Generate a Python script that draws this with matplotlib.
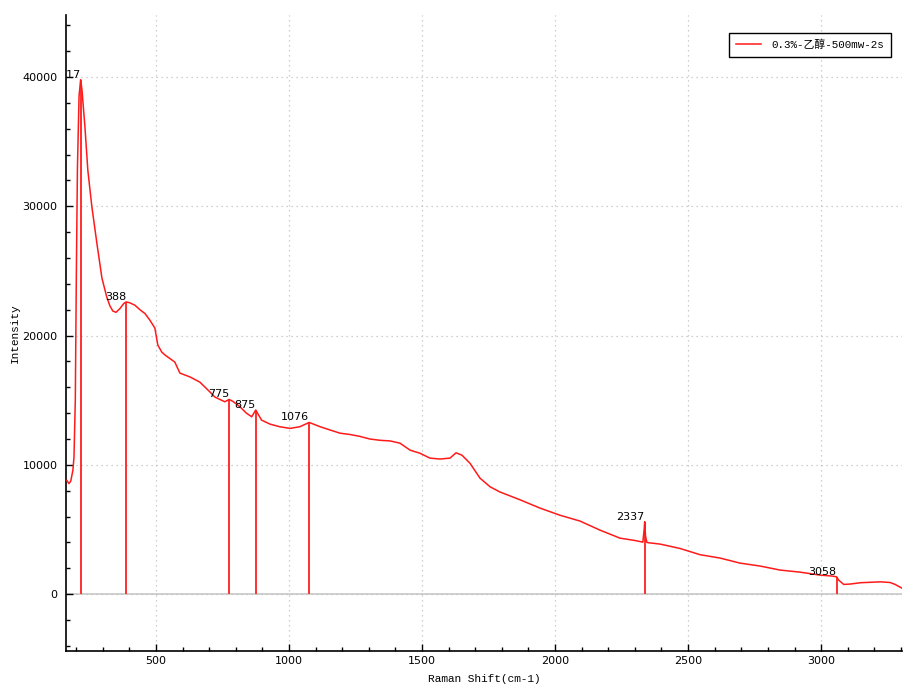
import matplotlib
matplotlib.use("Agg")
import matplotlib.pyplot as plt
from matplotlib.ticker import MultipleLocator

# Spectrum (Raman shift cm-1, intensity)
shift = [165, 173, 180, 188, 192, 197, 201, 205, 211, 217, 222, 233, 244, 259, 278,
         297, 315, 327, 338, 350, 365, 380, 388, 400, 421, 440, 459, 477, 496, 507,
         522, 534, 571, 590, 628, 665, 700, 722, 759, 775, 790, 816, 840, 860, 875,
         897, 929, 965, 1004, 1041, 1076, 1117, 1154, 1192, 1229, 1267, 1304, 1342,
         1380, 1417, 1455, 1492, 1530, 1568, 1605, 1628, 1650, 1680, 1718, 1756,
         1793, 1868, 1944, 2019, 2094, 2169, 2244, 2300, 2330, 2335, 2337, 2340,
         2345, 2353, 2395, 2470, 2545, 2620, 2695, 2771, 2846, 2921, 2996, 3040,
         3058, 3066, 3085, 3110, 3147, 3222, 3259, 3278, 3304]
intensity = [8800, 8550, 8750, 9600, 10600, 15000, 25000, 33000, 38500, 39800, 39000,
             36200, 32800, 30000, 27150, 24450, 23000, 22300, 21900, 21800, 22100,
             22500, 22600, 22550, 22350, 22000, 21700, 21200, 20580, 19270, 18720,
             18500, 17950, 17100, 16800, 16400, 15700, 15240, 14880, 15060, 14900,
             14490, 14000, 13720, 14240, 13460, 13150, 12950, 12820, 12950, 13280,
             12950, 12700, 12450, 12350, 12200, 12000, 11900, 11850, 11680, 11140,
             10900, 10520, 10450, 10520, 10930, 10750, 10130, 8970, 8300, 7900, 7300,
             6650, 6100, 5650, 4950, 4330, 4150, 4020, 5000, 5600, 4500, 4000, 3970,
             3870, 3530, 3050, 2790, 2400, 2170, 1860, 1700, 1470, 1400, 1340, 1080,
             750, 780, 880, 950, 900, 750, 460]

peak_x = [217, 388, 775, 875, 1076, 2337, 3058]
peak_y = [39800, 22600, 15060, 14240, 13280, 5600, 1340]
peak_labels = ["217", "388", "775", "875", "1076", "2337", "3058"]

legend_label = "0.3%-乙醇-500mw-2s"
x_label = "Raman Shift(cm-1)"
y_label = "Intensity"

plt.rcParams['font.family'] = ['DejaVu Sans', 'Noto Sans CJK SC']

fig = plt.figure(figsize=(9.09, 6.85), dpi=100)
ax = fig.add_axes([66 / 909, 34 / 685, 836 / 909, 636 / 685])

ax.set_xlim(162, 3304)
ax.set_ylim(-4400, 44800)

ax.grid(True, which='major', linestyle=(0, (1, 3)), color='#c0c0c0', linewidth=0.9)
ax.axhline(0, color='#c8c8c8', linewidth=1.2, zorder=1)

ax.vlines(peak_x, 0, peak_y, colors='#ff3030', linewidth=1.4, zorder=2)
ax.plot(shift, intensity, color='#ff1a1a', linewidth=1.1, label=legend_label, zorder=3)

for px, py, lab in zip(peak_x, peak_y, peak_labels):
    ax.text(px, py, lab, ha='right', va='bottom', fontsize=8, color='black',
            family=['DejaVu Sans'], clip_on=True)

ax.xaxis.set_major_locator(MultipleLocator(500))
ax.xaxis.set_minor_locator(MultipleLocator(100))
ax.yaxis.set_major_locator(MultipleLocator(10000))
ax.yaxis.set_minor_locator(MultipleLocator(2000))
ax.tick_params(which='major', direction='in', length=5, width=1, labelsize=8)
ax.tick_params(which='minor', direction='in', length=3, width=1)
ax.tick_params(axis='y', pad=6)

for s in ['top', 'right']:
    ax.spines[s].set_visible(False)
for s in ['left', 'bottom']:
    ax.spines[s].set_linewidth(1.2)

ax.set_xlabel(x_label, fontsize=8, family=['Liberation Mono'], labelpad=6)
ax.set_ylabel(y_label, fontsize=8, family=['Liberation Mono'], labelpad=2)

leg = ax.legend(loc='upper right', bbox_to_anchor=(0.993, 0.98), fancybox=False,
                edgecolor='black', framealpha=1, handlelength=2.3,
                prop={'family': ['Liberation Mono', 'Noto Sans CJK SC'], 'size': 7.8},
                borderpad=0.6, handletextpad=1.0)
leg.get_frame().set_linewidth(1.0)

fig.savefig("out.png", dpi=100)
